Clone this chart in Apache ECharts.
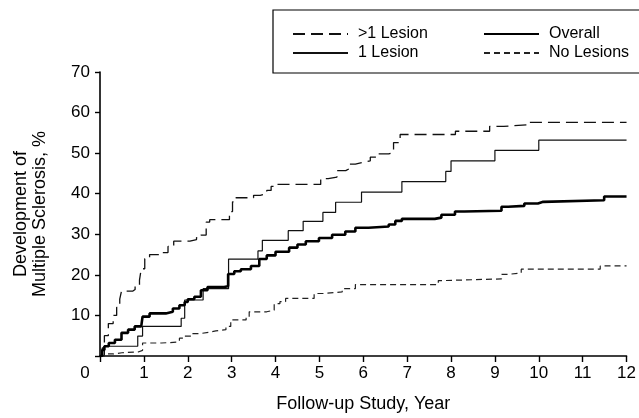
<!DOCTYPE html>
<html>
<head>
<meta charset="utf-8">
<script src="https://cdn.jsdelivr.net/npm/echarts@6/dist/echarts.min.js"></script>
<style>
  html, body { margin: 0; padding: 0; background: #fff; }
  #chart { width: 639px; height: 418px; }
</style>
</head>
<body>
<div id="chart"></div>
<script>
// ---- Data ----
const seriesNames = ['>1 Lesion', '1 Lesion', 'Overall', 'No Lesions'];
const xTicks = [0, 1, 2, 3, 4, 5, 6, 7, 8, 9, 10, 11, 12];
const yTicks = [0, 10, 20, 30, 40, 50, 60, 70];

const multiLesion = [[0,0],[0.05,2],[0.1,5],[0.19,8],[0.3,10],[0.38,12],[0.45,14],[0.49,16],[0.75,16.4],
  [0.8,17.5],[0.9,18.7],[0.94,21.5],[1.02,24],[1.13,25],[1.36,25.5],[1.55,27],[1.68,28.3],[2.05,28.7],
  [2.2,29.2],[2.3,29.8],[2.42,33],[2.5,33.6],[2.95,35.6],[3.02,38],[3.1,39],[3.5,39.6],[3.65,40],
  [3.8,40.8],[3.9,41.8],[3.97,42.3],[5.03,43.7],[5.2,44.1],[5.4,45.7],[5.6,46.1],[5.67,47.3],[5.82,47.7],
  [5.97,48.1],[6.16,49],[6.35,49.8],[6.58,50.2],[6.69,52.6],[6.84,54.6],[8.1,55.4],[8.88,56.6],[9.2,57],
  [9.8,57.6],[12,57.6]];

const oneLesion = [[0,0],[0.1,2.4],[0.86,4.9],[0.97,7.3],[1.85,9.3],[1.93,13.8],[2.35,16.6],[2.93,23.9],
  [3.6,25.9],[3.7,28.5],[4.29,30.9],[4.63,33.2],[5.08,35.4],[5.37,37.9],[5.96,40.4],[6.88,43.0],
  [7.88,45.5],[8.0,48.1],[9.0,50.7],[10.0,53.2],[12,53.2]];

const overall = [[0,0],[0.05,1.5],[0.1,2.4],[0.2,3.2],[0.34,4],[0.49,5.7],[0.64,6.5],[0.79,7.3],[0.94,7.7],
  [0.97,9.7],[1.13,10.5],[1.5,10.9],[1.66,11.7],[1.81,12.5],[1.93,13.3],[2.0,14],[2.15,14.6],[2.3,16.2],
  [2.45,17],[2.83,17.2],[2.92,20.2],[3.06,20.9],[3.21,21.4],[3.44,22.2],[3.63,23.9],[3.8,24.8],[4.0,25.7],
  [4.31,26.7],[4.5,27.5],[4.69,28.3],[4.99,29.1],[5.29,29.9],[5.59,30.7],[5.82,31.6],[6.12,31.9],
  [6.58,32.4],[6.73,33.3],[6.88,33.8],[7.63,34.1],[7.78,34.8],[8.09,35.6],[8.3,35.8],[9.15,36.8],
  [9.3,37.0],[9.67,37.6],[9.98,38.0],[10.1,38.4],[11.49,39.3],[12,39.3]];

const noLesions = [[0,0],[0.1,0.5],[0.3,0.8],[0.5,1.0],[0.87,1.4],[0.97,3.2],[1.4,3.4],[1.74,3.6],
  [1.81,4.4],[1.93,4.9],[2.08,5.5],[2.27,5.9],[2.5,6.2],[2.64,6.5],[2.87,7.3],[2.98,8.9],[3.33,9.5],
  [3.4,10.9],[3.8,11.3],[3.97,12.9],[4.1,13.4],[4.23,14.2],[4.88,15.4],[5.1,15.8],[5.52,16.6],
  [5.82,17.6],[7.71,18.6],[7.85,19.0],[9.15,20.1],[9.3,20.5],[9.6,21.4],[11.4,22.2],[12,22.2]];

const xTitle = 'Follow-up Study, Year';
const yTitle = 'Development of\nMultiple Sclerosis, %';

// ---- Chart ----
const FONT = "'Liberation Sans', Arial, sans-serif";
const chart = echarts.init(document.getElementById('chart'), null, { renderer: 'canvas' });

function lineSeries(name, data, width, type, color) {
  return {
    name: name, type: 'line', step: 'end', data: data,
    showSymbol: false, symbol: 'none', animation: false,
    lineStyle: { color: color, width: width, type: type },
    itemStyle: { color: color }
  };
}

const legendCommon = {
  orient: 'vertical', top: 21, itemWidth: 55, itemHeight: 14, itemGap: 3,
  selectedMode: false,
  itemStyle: { opacity: 0, borderWidth: 0 },
  textStyle: { fontFamily: FONT, fontSize: 16, color: '#000', padding: [0, 0, 0, 5] }
};

chart.setOption({
  animation: false,
  backgroundColor: '#fff',
  grid: { left: 100, right: 10, top: 72, bottom: 58, containLabel: false },
  legend: [
    Object.assign({}, legendCommon, { left: 287, data: [seriesNames[0], seriesNames[1]] }),
    Object.assign({}, legendCommon, { left: 478, data: [seriesNames[2], seriesNames[3]] })
  ],
  graphic: [{
    type: 'rect', shape: { x: 273, y: 10, width: 380, height: 63 },
    style: { fill: 'none', stroke: '#000', lineWidth: 1.2 }, silent: true
  }],
  xAxis: {
    type: 'value', min: xTicks[0], max: xTicks[xTicks.length - 1], interval: 1,
    name: xTitle, nameLocation: 'middle', nameGap: 39,
    nameTextStyle: { fontFamily: FONT, fontSize: 18, color: '#000' },
    axisLine: { show: true, onZero: false, lineStyle: { color: '#000', width: 1.6 } },
    axisTick: { show: true, inside: false, length: 6, lineStyle: { color: '#000', width: 1.4 } },
    axisLabel: {
      margin: 9, fontFamily: FONT, fontSize: 17, color: '#000',
      formatter: function (v) { return v === 0 ? '{o|0}' : String(v); },
      rich: { o: { fontFamily: FONT, fontSize: 17, color: '#000', padding: [0, 30, 0, 0] } }
    },
    splitLine: { show: false }
  },
  yAxis: {
    type: 'value', min: yTicks[0], max: yTicks[yTicks.length - 1], interval: 10,
    name: yTitle, nameLocation: 'middle', nameGap: 50, nameRotate: 90,
    nameTextStyle: { fontFamily: FONT, fontSize: 18, color: '#000', lineHeight: 19, align: 'center' },
    axisLine: { show: true, onZero: false, lineStyle: { color: '#000', width: 1.6 } },
    axisTick: { show: true, inside: false, length: 5, lineStyle: { color: '#000', width: 1.4 } },
    axisLabel: {
      margin: 10, fontFamily: FONT, fontSize: 17, color: '#000',
      formatter: function (v) { return v === 0 ? '' : String(v); }
    },
    splitLine: { show: false }
  },
  series: [
    lineSeries(seriesNames[0], multiLesion, 1.3, [12, 6], '#111'),
    lineSeries(seriesNames[1], oneLesion, 1.2, 'solid', '#111'),
    lineSeries(seriesNames[3], noLesions, 1.2, [6, 4], '#222'),
    lineSeries(seriesNames[2], overall, 2.6, 'solid', '#000')
  ]
});
</script>
</body>
</html>
